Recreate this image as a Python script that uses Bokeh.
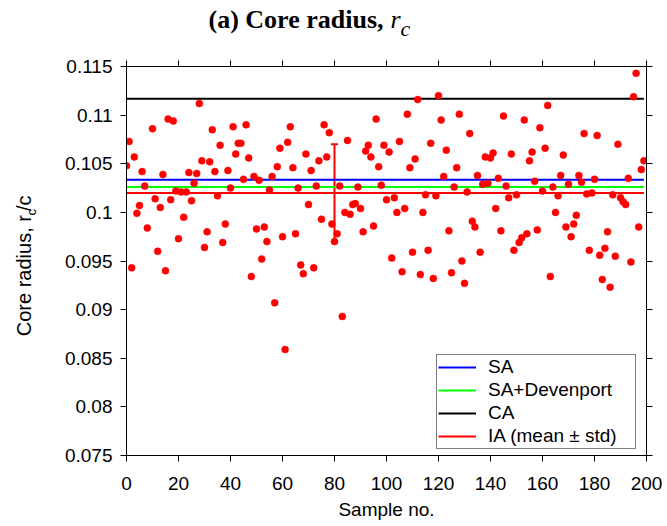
import math
from bokeh.plotting import figure
from bokeh.layouts import column, row
from bokeh.models import (ColumnDataSource, FixedTicker, LinearAxis, CustomJSTickFormatter,
                          Legend, LegendItem, Label, Whisker, TeeHead, Range1d)
from bokeh.embed import file_html
from bokeh.resources import INLINE

# ---------------- data ----------------
sample_no = [0, 1, 2, 3, 4, 5, 6, 7, 8] + list(range(10, 200))
core_radius = [
    0.1048, 0.1073, 0.0943, 0.1057, 0.0999, 0.1007, 0.1042, 0.1027, 0.0984,          # 0-8
    0.1086, 0.1014, 0.0960, 0.1005, 0.1039, 0.0940, 0.1096, 0.1013, 0.1094, 0.1022,  # 10-19
    0.0973, 0.1021, 0.0995, 0.1021, 0.1041, 0.1012, 0.1030, 0.1040, 0.1112, 0.1053,  # 20-29
    0.0964, 0.0980, 0.1052, 0.1085, 0.1042, 0.1017, 0.1069, 0.0969, 0.0988, 0.1043,  # 30-39
    0.1025, 0.1088, 0.1060, 0.1071, 0.1071, 0.1034, 0.1090, 0.1056, 0.0934, 0.1037,  # 40-49
    0.0983, 0.1033, 0.0952, 0.0985, 0.0970, 0.1023, 0.1037, 0.0907, 0.1047, 0.1066,  # 50-59
    0.0975, 0.0859, 0.1072, 0.1088, 0.1046, 0.0978, 0.1025, 0.0946, 0.0937, 0.1060,  # 60-69
    0.1008, 0.1043, 0.0943, 0.1027, 0.1053, 0.0993, 0.1090, 0.1057, 0.1082, 0.0988,  # 70-79
    0.0970, 0.0978, 0.1027, 0.0893, 0.1000, 0.1074, 0.0998, 0.1008, 0.1009, 0.1026,  # 80-89
    0.1004, 0.0980, 0.1063, 0.1069, 0.1057, 0.0986, 0.1096, 0.1047, 0.1028, 0.1069,  # 90-99
    0.1013, 0.1062, 0.0953, 0.1015, 0.1000, 0.1073, 0.0939, 0.1004, 0.1101, 0.1046,  # 100-109
    0.0959, 0.1055, 0.1116, 0.0936, 0.1000, 0.1018, 0.0961, 0.1071, 0.0932, 0.1017,  # 110-119
    0.1120, 0.1095, 0.1037, 0.1064, 0.0981, 0.0938, 0.1026, 0.1046, 0.1101, 0.0950,  # 120-129
    0.0927, 0.1021, 0.1081, 0.0991, 0.0985, 0.1038, 0.0959, 0.1029, 0.1057, 0.1030,  # 130-139
    0.1056, 0.1061, 0.1004, 0.1035, 0.0981, 0.1099, 0.1027, 0.1015, 0.1060, 0.0961,  # 140-149
    0.1018, 0.0969, 0.0974, 0.1095, 0.0978, 0.1053, 0.1062, 0.1032, 0.0982, 0.1087,  # 150-159
    0.1022, 0.1066, 0.1110, 0.0934, 0.1026, 0.1000, 0.1017, 0.1038, 0.1059, 0.0985,  # 160-169
    0.1029, 0.0975, 0.0988, 0.0997, 0.1038, 0.1031, 0.1081, 0.1019, 0.0961, 0.1020,  # 170-179
    0.1034, 0.1079, 0.0956, 0.0931, 0.0963, 0.0980, 0.0923, 0.1018, 0.0955, 0.1070,  # 180-189
    0.1015, 0.1011, 0.1008, 0.1035, 0.0949, 0.1119, 0.1143, 0.0985, 0.1044, 0.1053,  # 190-199
]
sa_value = 0.10336
sa_devenport_value = 0.1026
ca_value = 0.11168
ia_mean = 0.1020
ia_std = 0.0050
ia_bar_sample = 80

series_names = ["SA", "SA+Devenport", "CA", "IA (mean \u00b1 std)"]
x_ticks = [0, 20, 40, 60, 80, 100, 120, 140, 160, 180, 200]
y_ticks = [0.075, 0.08, 0.085, 0.09, 0.095, 0.1, 0.105, 0.11, 0.115]

SANS = "Liberation Sans"
SERIF = "Liberation Serif"

TITLE_H = 48      # height of the title strip
YLAB_W = 46       # width of the y-label strip
MAIN_W = 667 - YLAB_W
MAIN_H = 526 - TITLE_H

# ---------------- main figure ----------------
p = figure(width=MAIN_W, height=MAIN_H, output_backend="svg", toolbar_location=None,
           x_range=Range1d(0, 200), y_range=Range1d(0.075, 0.115),
           min_border_left=126 - YLAB_W, min_border_right=21,
           min_border_top=66 - TITLE_H, min_border_bottom=71,
           title=None)
p.background_fill_color = "white"
p.border_fill_color = "white"
p.outline_line_color = None
p.xgrid.visible = False
p.ygrid.visible = False

fmt_y = CustomJSTickFormatter(code="return tick.toFixed(3).replace(/0+$/, '').replace(/\\.$/, '');")
blank = CustomJSTickFormatter(code="return '';")

def style_axis(ax, show_labels):
    ax.axis_line_color = "black"
    ax.axis_line_width = 1
    ax.major_tick_line_color = "black"
    ax.major_tick_out = 6
    ax.major_tick_in = 0
    ax.minor_tick_line_color = None
    ax.major_label_text_font = SANS
    ax.major_label_text_font_size = "19px" if show_labels else "0px"
    ax.major_label_text_color = "black"

xa = p.xaxis[0]
xa.ticker = FixedTicker(ticks=x_ticks)
style_axis(xa, True)
xa.major_label_standoff = 15
xa.axis_label = "Sample no."
xa.axis_label_text_font = SANS
xa.axis_label_text_font_size = "19px"
xa.axis_label_text_font_style = "normal"
xa.axis_label_text_color = "black"
xa.axis_label_standoff = 6

ya = p.yaxis[0]
ya.ticker = FixedTicker(ticks=y_ticks)
ya.formatter = fmt_y
style_axis(ya, True)
ya.major_label_standoff = 8

top = LinearAxis(ticker=FixedTicker(ticks=x_ticks), formatter=blank, major_label_standoff=0)
style_axis(top, False)
p.add_layout(top, "above")
right = LinearAxis(ticker=FixedTicker(ticks=y_ticks), formatter=blank, major_label_standoff=0)
style_axis(right, False)
p.add_layout(right, "right")

# reference lines
line_x = [min(sample_no), max(sample_no)]
r_sa = p.line(line_x, [sa_value, sa_value], line_color="#0000ff", line_width=2)
r_sad = p.line(line_x, [sa_devenport_value, sa_devenport_value], line_color="#00ff00", line_width=2)
r_ca = p.line(line_x, [ca_value, ca_value], line_color="black", line_width=2)
r_ia = p.line(line_x, [ia_mean, ia_mean], line_color="#ff0000", line_width=2)

# samples
p.scatter(sample_no, core_radius, size=7, fill_color="#ff0000", line_color="#ff0000", line_width=0.5)

# error bar (mean +/- std)
eb = ColumnDataSource(data=dict(base=[ia_bar_sample], lower=[ia_mean - ia_std], upper=[ia_mean + ia_std]))
wh = Whisker(source=eb, base="base", lower="lower", upper="upper", dimension="height",
             line_color="#ff0000", line_width=2,
             upper_head=TeeHead(size=7, line_color="#ff0000", line_width=2),
             lower_head=TeeHead(size=7, line_color="#ff0000", line_width=2))
p.add_layout(wh)

# legend
legend = Legend(items=[LegendItem(label=series_names[0], renderers=[r_sa]),
                       LegendItem(label=series_names[1], renderers=[r_sad]),
                       LegendItem(label=series_names[2], renderers=[r_ca]),
                       LegendItem(label=series_names[3], renderers=[r_ia])],
                location=(310, 6), padding=1, spacing=1, margin=0,
                glyph_width=38, glyph_height=20, label_height=20, label_width=146,
                label_standoff=12,
                label_text_font=SANS, label_text_font_size="19px", label_text_color="black",
                border_line_color="black", border_line_width=1,
                background_fill_color="white", background_fill_alpha=1)
p.add_layout(legend)

# ---------------- text strips ----------------
def strip(w, h):
    f = figure(width=w, height=h, output_backend="svg", toolbar_location=None,
               x_range=Range1d(0, w), y_range=Range1d(0, h),
               x_axis_type=None, y_axis_type=None, min_border=0, title=None)
    f.outline_line_color = None
    f.background_fill_color = "white"
    f.border_fill_color = "white"
    return f

tf = strip(667, TITLE_H)
tf.add_layout(Label(x=208, y=TITLE_H - 19, text="(a) Core radius,", text_font=SERIF,
                    text_font_style="bold", text_font_size="26px", text_color="black",
                    text_baseline="middle", text_align="left"))
tf.add_layout(Label(x=390, y=TITLE_H - 19, text="r", text_font=SERIF,
                    text_font_style="italic", text_font_size="26px", text_color="black",
                    text_baseline="middle", text_align="left"))
tf.add_layout(Label(x=400, y=TITLE_H - 27.5, text="c", text_font=SERIF,
                    text_font_style="italic", text_font_size="22px", text_color="black",
                    text_baseline="middle", text_align="left"))

yf = strip(YLAB_W, MAIN_H)
ang = math.pi / 2
# centre-anchored pieces of the rotated label "Core radius, r_c/c"
yf.add_layout(Label(x=23.5, y=221, text="Core radius, r", angle=ang, text_font=SANS,
                    text_font_size="20px", text_color="black",
                    text_baseline="middle", text_align="center"))
yf.add_layout(Label(x=30.5, y=299, text="c", angle=ang, text_font=SANS,
                    text_font_size="13px", text_color="black",
                    text_baseline="middle", text_align="center"))
yf.add_layout(Label(x=23.5, y=310, text="/c", angle=ang, text_font=SANS,
                    text_font_size="20px", text_color="black",
                    text_baseline="middle", text_align="center"))

layout = column(tf, row(yf, p, spacing=0), spacing=0)

open("out.html", "w").write(file_html(layout, INLINE))
